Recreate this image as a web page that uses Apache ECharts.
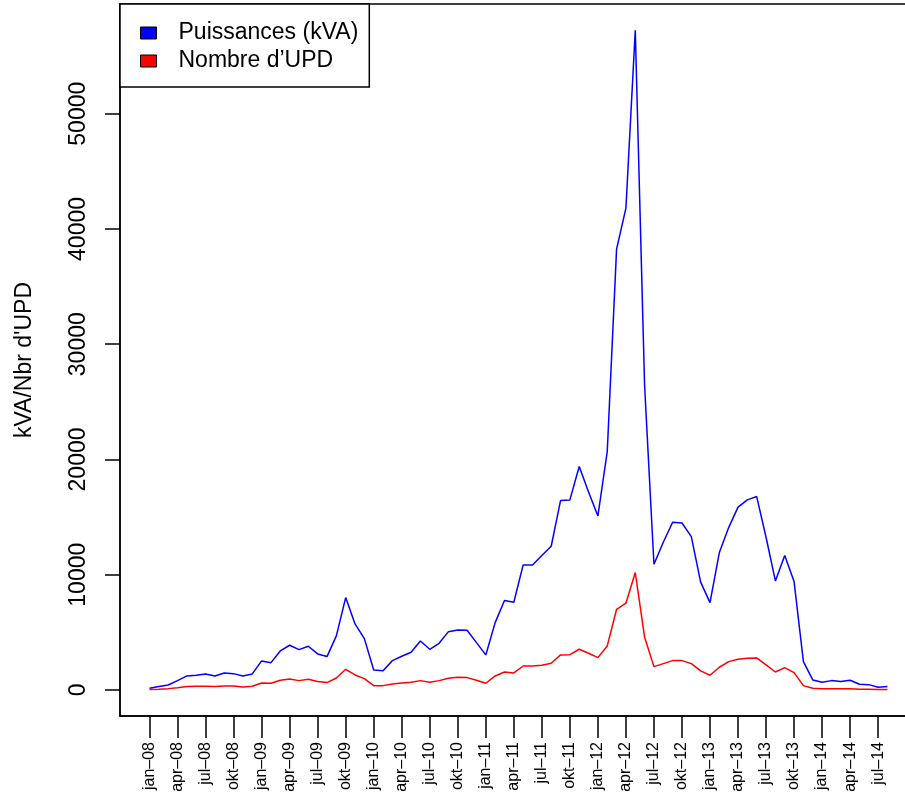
<!DOCTYPE html>
<html>
<head>
<meta charset="utf-8">
<script src="https://cdn.jsdelivr.net/npm/echarts@6/dist/echarts.min.js"></script>
<style>
  html, body { margin: 0; padding: 0; background: #fff; overflow: hidden; }
  #chart { width: 905px; height: 794px; }
</style>
</head>
<body>
<div id="chart"></div>
<script>
// Monthly series, jan-08 .. aug-14
const monthNames = ['jan', 'feb', 'mar', 'apr', 'mai', 'jun', 'jul', 'aug', 'sep', 'okt', 'nov', 'des'];
const years = ['08', '09', '10', '11', '12', '13', '14'];
const months = [];
years.forEach(y => monthNames.forEach(m => months.push(m + '–' + y)));
months.length = 80;

const puissances = [
  150, 290, 430, 810, 1215, 1275, 1390, 1215, 1475, 1415,
  1215, 1390, 2520, 2370, 3385, 3880, 3500, 3790, 3125, 2895,
  4690, 8015, 5730, 4455, 1735, 1675, 2545, 2920, 3270, 4250,
  3530, 4050, 5060, 5210, 5180, 4110, 3040, 5845, 7755, 7610,
  10850, 10850, 11660, 12470, 16435, 16490, 19385, 17170, 15100, 20690,
  38250, 41815, 57230, 26400, 10910, 12820, 14555, 14490, 13310, 9360,
  7580, 11920, 14090, 15860, 16490, 16780, 13250, 9460, 11660, 9400,
  2460, 870, 665, 810, 725, 840, 490, 460, 230, 290
];

const nombreUPD = [
  30, 60, 115, 200, 290, 320, 320, 290, 350, 350,
  260, 320, 610, 585, 840, 955, 810, 925, 725, 640,
  1040, 1795, 1300, 985, 375, 375, 520, 595, 665, 810,
  665, 810, 1015, 1100, 1070, 840, 580, 1215, 1560, 1475,
  2080, 2080, 2140, 2315, 3040, 3065, 3530, 3185, 2805, 3820,
  7000, 7525, 10185, 4575, 2025, 2285, 2545, 2545, 2285, 1660,
  1275, 1970, 2460, 2665, 2750, 2780, 2170, 1560, 1935, 1500,
  375, 145, 115, 115, 100, 100, 70, 70, 30, 30
];

// Quarterly tick positions on the month axis (jan, apr, jul, okt)
const xTicks = [];
for (let i = 0; i < months.length; i += 3) xTicks.push(i);
const yTicks = [0, 10000, 20000, 30000, 40000, 50000];

const FONT = '"Liberation Sans", Arial, Helvetica, sans-serif';
const toPairs = arr => arr.map((v, i) => [i, v]);

const chart = echarts.init(document.getElementById('chart'), null, { renderer: 'canvas' });
chart.setOption({
  animation: false,
  backgroundColor: '#fff',
  textStyle: { fontFamily: FONT, color: '#000' },
  grid: {
    left: 120, width: 797, top: 4, bottom: 78,
    outerBoundsMode: 'none', containLabel: false,
    show: true, borderColor: '#000', borderWidth: 1.5, backgroundColor: 'transparent'
  },
  legend: {
    left: 120, top: 4, orient: 'vertical',
    padding: [16, 11, 13, 20],
    itemGap: 2, itemWidth: 16, itemHeight: 12,
    backgroundColor: '#fff', borderColor: '#000', borderWidth: 1.5,
    icon: 'rect',
    itemStyle: { borderColor: '#000', borderWidth: 1 },
    textStyle: { fontFamily: FONT, fontSize: 23, color: '#000', lineHeight: 26, padding: [0, 0, 0, 17] },
    data: ['Puissances (kVA)', 'Nombre d’UPD']
  },
  xAxis: {
    type: 'value', min: -3.16, max: 82.16,
    splitLine: { show: false },
    axisLine: { show: true, onZero: false, lineStyle: { color: '#000', width: 1.5 } },
    axisTick: { show: true, customValues: xTicks, length: 22, lineStyle: { color: '#000', width: 1.5 } },
    axisLabel: {
      customValues: xTicks, rotate: 90, margin: 26,
      fontFamily: FONT, fontSize: 16, color: '#000',
      formatter: v => months[Math.round(v)]
    }
  },
  yAxis: {
    type: 'value', min: -2260, max: 59520,
    name: 'kVA/Nbr d\'UPD', nameLocation: 'middle', nameRotate: 90, nameGap: 84,
    nameTextStyle: { fontFamily: FONT, fontSize: 23, color: '#000' },
    splitLine: { show: false },
    axisLine: { show: true, onZero: false, lineStyle: { color: '#000', width: 1.5 } },
    axisTick: { show: true, customValues: yTicks, length: 15, lineStyle: { color: '#000', width: 1.5 } },
    axisLabel: {
      customValues: yTicks, rotate: 90, margin: 30,
      fontFamily: FONT, fontSize: 23, color: '#000',
      formatter: v => String(v)
    }
  },
  series: [
    {
      name: 'Puissances (kVA)', type: 'line', data: toPairs(puissances),
      showSymbol: false, symbol: 'none', color: '#0000ff',
      lineStyle: { color: '#0000ff', width: 1.5 }
    },
    {
      name: 'Nombre d’UPD', type: 'line', data: toPairs(nombreUPD),
      showSymbol: false, symbol: 'none', color: '#ff0000',
      lineStyle: { color: '#ff0000', width: 1.5 }
    }
  ]
});
</script>
</body>
</html>
